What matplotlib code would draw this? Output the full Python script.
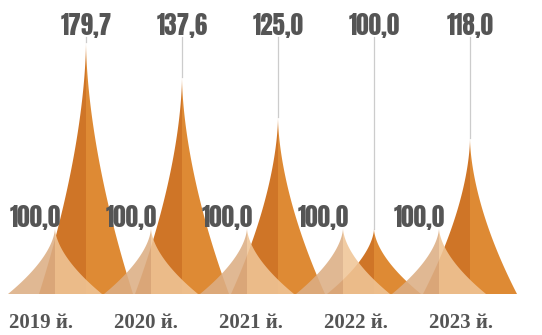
import numpy as np
import matplotlib
matplotlib.use("Agg")
import matplotlib.pyplot as plt

# data
years = ["2019 й.", "2020 й.", "2021 й.", "2022 й.", "2023 й."]
base_labels = ["100,0", "100,0", "100,0", "100,0", "100,0"]
value_labels = ["179,7", "137,6", "125,0", "100,0", "118,0"]
base_heights = [100, 100, 100, 100, 100]
# drawn heights of the dark spikes (same scale as the 100,0 spikes)
value_heights = [382, 329, 268, 99, 236]

# layout (pixel based, figure is 542 x 335)
W, H = 542, 335
step = 96.0          # px between groups
first = 55.0         # px of first light spike
shift = 31.0 / step  # dark spike offset
half = 47.0 / step   # half base width
base_px = 294.0      # baseline, px from top
unit = 0.66          # px per value unit


def spike(ax, c, h, w, col_l, col_r, alpha, z):
    t = np.linspace(0, 1, 80)
    hw = w * (1 - t) ** 1.7
    y = h * t
    xl = np.concatenate([c - hw, [c]])
    yl = np.concatenate([y, [0]])
    xr = np.concatenate([c + hw, [c]])
    ax.fill(xl, yl, color=col_l, alpha=alpha, lw=0, zorder=z)
    ax.fill(xr, yl, color=col_r, alpha=alpha, lw=0, zorder=z)


fig = plt.figure(figsize=(W / 100, H / 100), dpi=100)
ax = fig.add_axes([0, 0, 1, 1])
ax.set_xlim(-first / step, (W - first) / step)
ax.set_ylim(-(H - base_px) / unit, base_px / unit)
ax.axis("off")

num_font = dict(family=["Anton", "DejaVu Sans"], fontsize=18, color="#555555")
year_font = dict(family=["Liberation Serif", "Tinos", "DejaVu Serif"],
                 weight="bold", fontsize=15, color="#555555")

for i in range(len(years)):
    xl = i
    xd = i + shift
    spike(ax, xd, value_heights[i], half, "#cf7527", "#de8a34", 1.0, 2)
    spike(ax, xl, base_heights[i], half, "#dcae84", "#f0c597", 0.88, 3)

    ax.plot([xd, xd], [value_heights[i], (base_px - 37) / unit],
            color="#cccccc", lw=0.9, zorder=1)
    ax.text(xd, (base_px - 25) / unit, value_labels[i], ha="center",
            va="center", **num_font)
    ax.text(xl + 6 / step, (base_px - 217) / unit, base_labels[i],
            ha="right", va="center", zorder=4, **num_font)

    yx = (41 + 105 * i - first) / step
    ax.text(yx, (base_px - 323) / unit, years[i], ha="center", va="center",
            **year_font)

fig.savefig("out.png", dpi=100)
